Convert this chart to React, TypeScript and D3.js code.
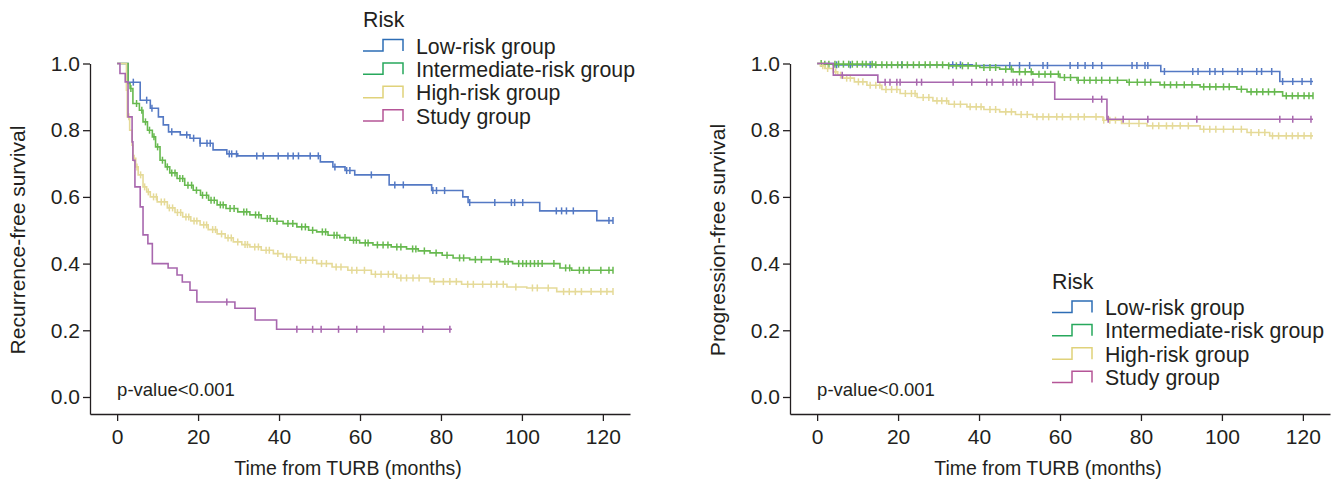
import { useEffect, useRef } from 'react';
import * as d3 from 'd3';

// Recurrence-free survival (left panel): step times (months) and survival values
const rfsLowTime = [0, 2.7, 5.7, 8.2, 10.2, 11.4, 12.7, 15.6, 18.0, 20.5, 23.7, 27.1, 29.8, 50.2, 53.3, 56.3, 58.7, 67.2, 77.7, 85.4, 86.7, 104.4, 118.5, 122.5];
const rfsLowSurv = [1, 0.944, 0.89, 0.866, 0.84, 0.816, 0.795, 0.786, 0.776, 0.761, 0.741, 0.729, 0.723, 0.705, 0.69, 0.679, 0.666, 0.636, 0.619, 0.6, 0.583, 0.558, 0.529, 0.529];
const rfsLowCens = [4.0, 7.3, 8.6, 13.5, 17.2, 18.9, 20.5, 22.2, 23.0, 27.7, 28.3, 29.5, 34.5, 36.1, 39.8, 42.2, 43.5, 44.8, 47.7, 49.7, 53.8, 56.7, 57.5, 62.8, 68.6, 70.7, 78.0, 78.9, 80.9, 87.1, 93.3, 97.4, 98.2, 100.2, 108.5, 109.8, 111.0, 112.7, 121.5, 122.5];

const rfsIntTime = [0, 2.7, 3.2, 3.9, 5.5, 6.4, 7.5, 8.7, 9.5, 10.6, 11.9, 13.0, 14.8, 16.7, 18.8, 20.6, 22.6, 24.7, 26.9, 29.8, 32.8, 35.6, 38.6, 41.0, 44.4, 47.3, 49.3, 52.1, 55.0, 57.5, 59.9, 63.2, 67.7, 71.5, 74.4, 77.3, 80.3, 83.0, 87.1, 94.5, 97.7, 109.4, 112.3, 122.5];
const rfsIntSurv = [1, 0.94, 0.925, 0.88, 0.86, 0.825, 0.8, 0.78, 0.75, 0.71, 0.69, 0.672, 0.655, 0.635, 0.62, 0.605, 0.59, 0.576, 0.565, 0.555, 0.546, 0.535, 0.527, 0.52, 0.51, 0.5, 0.495, 0.485, 0.478, 0.47, 0.462, 0.456, 0.45, 0.444, 0.438, 0.432, 0.425, 0.417, 0.412, 0.406, 0.4, 0.387, 0.38, 0.38];
const rfsIntCens = [3.4, 4.8, 6.1, 7.0, 8.0, 9.1, 10.0, 11.2, 12.4, 13.5, 14.3, 15.5, 16.2, 17.5, 18.4, 19.6, 21.1, 22.1, 23.2, 24.0, 25.5, 26.2, 27.9, 28.9, 31.3, 32.0, 34.2, 35.0, 37.1, 37.8, 39.5, 42.2, 43.4, 45.6, 46.5, 48.3, 50.7, 51.5, 53.6, 54.3, 56.3, 58.4, 59.1, 61.3, 62.0, 64.3, 65.7, 66.9, 69.1, 70.1, 73.0, 73.8, 75.9, 78.8, 81.5, 84.6, 85.6, 88.5, 90.0, 92.4, 95.8, 96.6, 99.2, 100.2, 101.1, 102.1, 103.1, 104.0, 105.0, 107.9, 110.8, 111.8, 114.2, 115.2, 116.6, 119.5, 121.5, 122.5];

const rfsHighTime = [0, 2.3, 2.5, 3.1, 3.7, 3.9, 4.6, 5.2, 6.4, 7.3, 8.2, 9.9, 12.4, 14.3, 16.2, 18.2, 20.5, 22.5, 24.7, 26.7, 28.7, 30.8, 32.8, 35.6, 38.6, 41.0, 44.4, 49.3, 53.1, 57.0, 62.8, 69.1, 77.3, 85.1, 96.3, 101.2, 108.6, 122.5];
const rfsHighSurv = [1, 0.92, 0.84, 0.8, 0.755, 0.716, 0.69, 0.666, 0.63, 0.615, 0.6, 0.585, 0.567, 0.553, 0.54, 0.528, 0.516, 0.502, 0.489, 0.477, 0.465, 0.457, 0.45, 0.44, 0.43, 0.42, 0.41, 0.4, 0.39, 0.38, 0.368, 0.357, 0.346, 0.338, 0.33, 0.327, 0.316, 0.316];
const rfsHighCens = [2.9, 4.2, 4.9, 5.8, 6.8, 7.7, 9.0, 9.7, 10.9, 11.7, 12.9, 13.7, 14.9, 15.7, 17.0, 17.7, 19.0, 19.7, 21.4, 22.1, 23.6, 24.3, 25.8, 27.4, 28.2, 29.8, 31.6, 32.2, 34.0, 34.9, 36.8, 37.6, 39.7, 41.9, 42.8, 45.3, 46.6, 48.3, 50.5, 51.7, 54.1, 55.3, 58.0, 59.2, 61.1, 63.8, 65.2, 67.0, 68.2, 70.1, 71.5, 73.1, 74.6, 78.3, 80.6, 82.2, 83.8, 86.6, 88.0, 90.3, 92.4, 93.8, 95.4, 98.5, 102.6, 103.8, 106.5, 110.3, 111.7, 113.2, 114.7, 117.1, 119.5, 121.0, 122.5];

const rfsStudyTime = [0, 0.7, 2.0, 2.7, 3.7, 3.9, 4.4, 5.7, 6.4, 7.6, 8.7, 12.6, 14.8, 16.1, 18.0, 19.7, 29.1, 34.1, 39.4, 82.7];
const rfsStudySurv = [1, 0.97, 0.945, 0.84, 0.765, 0.71, 0.63, 0.57, 0.486, 0.46, 0.4, 0.387, 0.366, 0.345, 0.32, 0.285, 0.266, 0.231, 0.203, 0.203];
const rfsStudyCens = [27.1, 44.4, 48.3, 50.4, 54.7, 59.2, 65.9, 75.5, 82.2];

// Progression-free survival (right panel)
const pfsLowTime = [0, 4.0, 38.3, 84.9, 114.3, 122.5];
const pfsLowSurv = [1, 0.996, 0.994, 0.976, 0.946, 0.946];
const pfsLowCens = [4.8, 8.2, 13.1, 20.9, 33.5, 35.4, 47.6, 50.0, 52.5, 55.8, 56.9, 62.5, 64.4, 66.2, 68.1, 70.3, 77.8, 79.0, 81.0, 81.7, 85.8, 92.8, 94.1, 97.0, 98.3, 100.2, 103.9, 105.0, 108.6, 109.8, 112.3, 115.0, 117.5, 119.8, 122.0];

const pfsIntTime = [0, 1.5, 14.1, 32.5, 40.2, 45.1, 48.4, 53.3, 60.0, 64.2, 76.5, 84.7, 94.6, 103.7, 106.2, 115.0, 122.5];
const pfsIntSurv = [1, 0.998, 0.996, 0.993, 0.988, 0.983, 0.975, 0.968, 0.958, 0.95, 0.944, 0.936, 0.93, 0.923, 0.915, 0.903, 0.903];
const pfsIntCens = [1.0, 1.9, 2.9, 4.4, 5.3, 6.5, 7.8, 8.7, 9.9, 11.2, 12.1, 13.6, 14.5, 16.0, 17.2, 18.4, 19.9, 21.0, 22.3, 23.8, 25.2, 26.7, 27.9, 29.6, 31.0, 32.5, 34.4, 35.9, 37.3, 39.3, 41.2, 42.7, 44.1, 46.6, 48.0, 50.0, 51.4, 52.9, 54.8, 56.3, 57.7, 59.6, 61.1, 62.6, 64.5, 66.0, 67.4, 68.9, 70.3, 72.3, 74.2, 77.1, 79.1, 81.0, 82.4, 85.8, 87.3, 88.8, 90.7, 92.6, 95.5, 97.0, 98.5, 100.4, 101.8, 104.8, 107.2, 108.6, 110.1, 111.5, 113.0, 115.9, 117.4, 118.8, 120.3, 121.5, 122.5];

const pfsHighTime = [0, 0.8, 1.9, 4.0, 5.1, 6.4, 9.2, 12.3, 16.0, 20.5, 24.7, 28.6, 32.5, 37.0, 41.2, 45.1, 49.0, 53.3, 70.6, 75.2, 81.5, 94.6, 106.2, 111.8, 122.5];
const pfsHighSurv = [1, 0.993, 0.985, 0.975, 0.965, 0.956, 0.945, 0.935, 0.922, 0.91, 0.898, 0.888, 0.878, 0.87, 0.862, 0.855, 0.847, 0.84, 0.83, 0.82, 0.813, 0.803, 0.793, 0.783, 0.783];
const pfsHighCens = [1.4, 2.6, 4.6, 5.8, 7.3, 8.2, 10.2, 11.3, 13.1, 14.5, 15.5, 17.0, 18.4, 19.7, 21.8, 23.3, 24.2, 26.2, 27.6, 29.6, 30.8, 32.0, 33.9, 35.4, 37.8, 39.3, 40.5, 42.7, 44.1, 46.6, 48.0, 50.4, 51.9, 54.3, 55.8, 57.2, 59.2, 60.6, 62.6, 64.5, 66.0, 68.9, 70.8, 72.3, 73.7, 77.1, 79.5, 82.9, 84.4, 86.3, 87.8, 89.7, 91.7, 95.5, 97.0, 98.5, 100.4, 102.8, 104.8, 107.2, 109.1, 110.6, 112.5, 114.0, 115.9, 117.4, 118.8, 120.3, 122.0];

const pfsStudyTime = [0, 4.0, 15.0, 58.7, 71.6, 122.5];
const pfsStudySurv = [1, 0.965, 0.944, 0.893, 0.833, 0.833];
const pfsStudyCens = [6.2, 16.8, 18.0, 19.7, 20.5, 24.6, 25.8, 33.6, 38.2, 41.9, 43.2, 45.9, 48.4, 49.3, 50.4, 53.3, 68.1, 70.3, 71.9, 75.6, 81.7, 93.8, 114.3, 117.5, 122.0];

const seriesNames = ['Low-risk group', 'Intermediate-risk group', 'High-risk group', 'Study group'];
const xTicks = [0, 20, 40, 60, 80, 100, 120];
const yTicks = [0, 0.2, 0.4, 0.6, 0.8, 1.0];

const curveColors = ['#5479c4', '#67b94f', '#e5da98', '#a867ae'];
const legendColors = ['#2d6db5', '#27a85c', '#e0d27a', '#b55597'];
const ink = '#231f20';
const font = '"Liberation Sans", Arial, Helvetica, sans-serif';

const drawPanel = (svg, opts) => {
  const { left, curves, yTitle, legendX, legendY } = opts;
  const axisY = 414;
  const x = d3.scaleLinear().domain([-6.7, 126.7]).range([left, left + 540]);
  const y = d3.scaleLinear().domain([-0.051, 1]).range([axisY, 63.5]);

  const g = svg.append('g');

  // axes
  const xa = g.append('g')
    .attr('transform', `translate(0,${axisY})`)
    .call(d3.axisBottom(x).tickValues(xTicks).tickSize(7).tickSizeOuter(0).tickPadding(8));
  const ya = g.append('g')
    .attr('transform', `translate(${left},0)`)
    .call(d3.axisLeft(y).tickValues(yTicks).tickFormat(d3.format('.1f')).tickSize(7).tickSizeOuter(0).tickPadding(3));
  [xa, ya].forEach(a => {
    a.attr('font-family', font).attr('font-size', 21);
    a.selectAll('path, line').attr('stroke', ink).attr('stroke-width', 1.3);
    a.selectAll('text').attr('fill', ink);
  });

  const line = d3.line()
    .x(d => x(d[0]))
    .y(d => y(d[1]))
    .curve(d3.curveStepAfter);

  curves.forEach((c, i) => {
    const pts = c.time.map((t, j) => [t, c.surv[j]]);
    g.append('path')
      .datum(pts)
      .attr('d', line)
      .attr('fill', 'none')
      .attr('stroke', curveColors[i])
      .attr('stroke-width', 1.6);

    const survAt = t => c.surv[Math.max(0, d3.bisectRight(c.time, t) - 1)];
    g.append('g').selectAll('line')
      .data(c.cens)
      .join('line')
      .attr('x1', d => x(d))
      .attr('x2', d => x(d))
      .attr('y1', d => y(survAt(d)) - 3.5)
      .attr('y2', d => y(survAt(d)) + 3.5)
      .attr('stroke', curveColors[i])
      .attr('stroke-width', 1.5);
  });

  g.append('text')
    .attr('x', x(0))
    .attr('y', 396)
    .attr('font-family', font)
    .attr('font-size', 18.5)
    .attr('fill', ink)
    .text('p-value<0.001');

  g.append('text')
    .attr('transform', `translate(${left - 65},240) rotate(-90)`)
    .attr('text-anchor', 'middle')
    .attr('font-family', font)
    .attr('font-size', 21)
    .attr('fill', ink)
    .text(yTitle);

  g.append('text')
    .attr('x', left + 258)
    .attr('y', 475)
    .attr('text-anchor', 'middle')
    .attr('font-family', font)
    .attr('font-size', 19.5)
    .attr('fill', ink)
    .text('Time from TURB (months)');

  // legend
  const lg = g.append('g').attr('font-family', font).attr('font-size', 21.3).attr('fill', ink);
  lg.append('text').attr('x', legendX).attr('y', legendY).text('Risk');
  seriesNames.forEach((name, i) => {
    const b = legendY + 26.5 + i * 23.4;
    lg.append('path')
      .attr('d', `M${legendX},${b - 2.6}H${legendX + 20}V${b - 14}H${legendX + 40}V${b - 2.6}`)
      .attr('fill', 'none')
      .attr('stroke', legendColors[i])
      .attr('stroke-width', 1.5);
    lg.append('text').attr('x', legendX + 53).attr('y', b).text(name);
  });
};

function App() {
  const ref = useRef(null);

  useEffect(() => {
    const svg = d3.select(ref.current);
    svg.selectAll('*').remove();

    drawPanel(svg, {
      left: 90,
      yTitle: 'Recurrence-free survival',
      legendX: 363,
      legendY: 27,
      curves: [
        { time: rfsLowTime, surv: rfsLowSurv, cens: rfsLowCens },
        { time: rfsIntTime, surv: rfsIntSurv, cens: rfsIntCens },
        { time: rfsHighTime, surv: rfsHighSurv, cens: rfsHighCens },
        { time: rfsStudyTime, surv: rfsStudySurv, cens: rfsStudyCens },
      ],
    });

    drawPanel(svg, {
      left: 790,
      yTitle: 'Progression-free survival',
      legendX: 1052,
      legendY: 288.5,
      curves: [
        { time: pfsLowTime, surv: pfsLowSurv, cens: pfsLowCens },
        { time: pfsIntTime, surv: pfsIntSurv, cens: pfsIntCens },
        { time: pfsHighTime, surv: pfsHighSurv, cens: pfsHighCens },
        { time: pfsStudyTime, surv: pfsStudySurv, cens: pfsStudyCens },
      ],
    });
  }, []);

  return (
    <svg
      ref={ref}
      width={1340}
      height={485}
      style={{ position: 'absolute', left: 0, top: 0, background: '#fff' }}
    />
  );
}

export default App;
